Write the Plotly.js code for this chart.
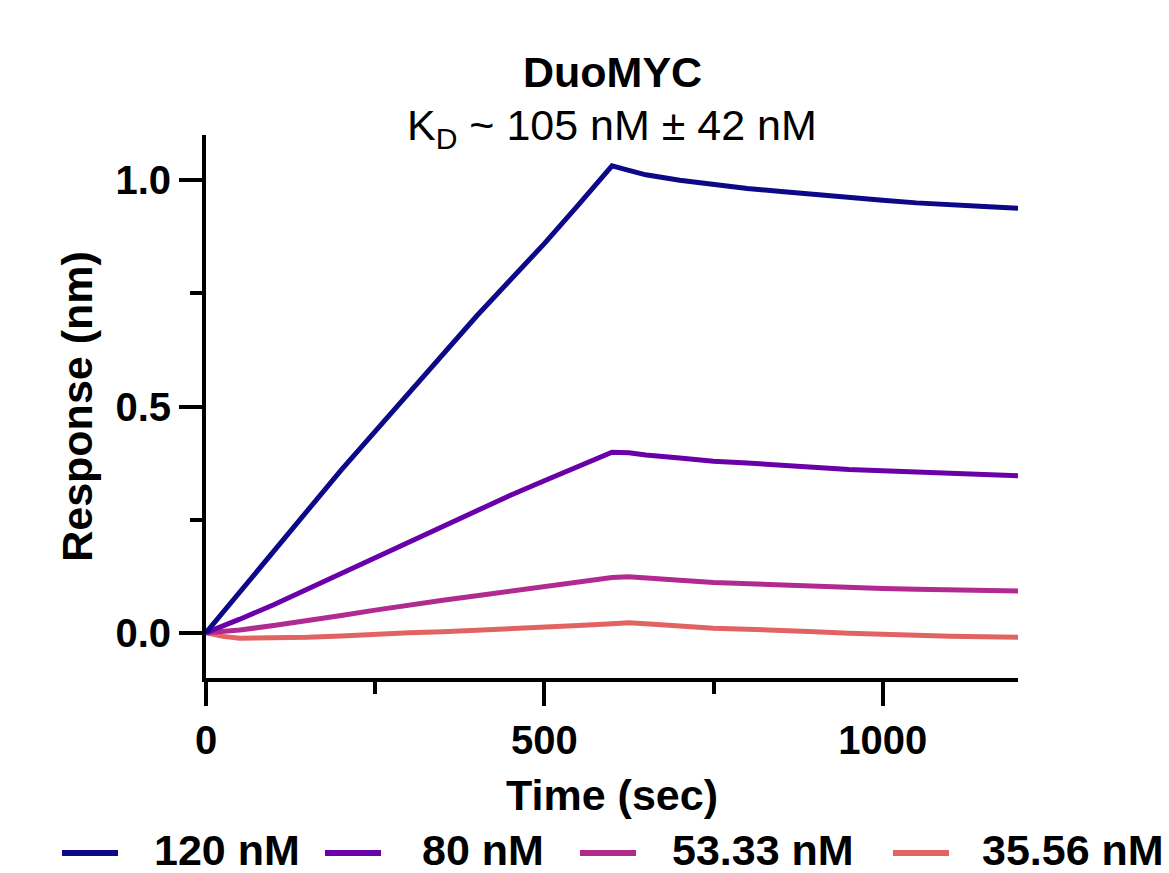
<!DOCTYPE html>
<html>
<head>
<meta charset="utf-8">
<script src="https://cdn.plot.ly/plotly-3.0.1.min.js"></script>
<style>
  html, body { margin: 0; padding: 0; background: #ffffff; }
  #chart { width: 1169px; height: 873px; }
</style>
</head>
<body>
<div id="chart"></div>
<script>
// Time points (sec)
const timeSec = [0, 25, 50, 100, 150, 200, 250, 300, 350, 400, 450, 500, 550, 600,
                 625, 650, 700, 750, 800, 850, 900, 950, 1000, 1050, 1100, 1150, 1200];

// Series names
const seriesNames = ["120 nM", "80 nM", "53.33 nM", "35.56 nM"];

// Response (nm) per concentration
const resp120 = [0, 0.045, 0.09, 0.18, 0.27, 0.36, 0.445, 0.53, 0.615, 0.70, 0.78, 0.86, 0.945, 1.032,
                 1.022, 1.012, 1.000, 0.990, 0.982, 0.975, 0.968, 0.962, 0.956, 0.950, 0.945, 0.942, 0.938];
const resp80 = [0, 0.014, 0.030, 0.062, 0.097, 0.132, 0.167, 0.202, 0.237, 0.272, 0.304, 0.336, 0.367, 0.399,
                0.398, 0.393, 0.386, 0.379, 0.375, 0.370, 0.365, 0.361, 0.358, 0.355, 0.352, 0.349, 0.347];
const resp53 = [0, 0.002, 0.006, 0.016, 0.026, 0.038, 0.050, 0.062, 0.072, 0.082, 0.092, 0.102, 0.112, 0.122,
                0.124, 0.122, 0.116, 0.111, 0.108, 0.106, 0.104, 0.101, 0.098, 0.096, 0.094, 0.093, 0.092];
const resp36 = [0, -0.008, -0.012, -0.012, -0.010, -0.007, -0.003, 0.000, 0.002, 0.005, 0.010, 0.012, 0.016, 0.020,
                0.022, 0.020, 0.014, 0.010, 0.008, 0.004, 0.002, -0.001, -0.004, -0.006, -0.008, -0.009, -0.010];

const seriesValues = [resp120, resp80, resp53, resp36];
const seriesColors = ["#0d0887", "#6a00a8", "#b12a90", "#e16462"];

// Axis ticks
const xTickVals = [0, 500, 1000];
const xTickText = ["0", "500", "1000"];
const yTickVals = [0, 0.5, 1.0];
const yTickText = ["0.0", "0.5", "1.0"];

const FONT = "Liberation Sans, Arial, sans-serif";

// Page geometry (pixels) used for converting legend placement to paper units
const W = 1169, H = 873;
const M = { l: 206, r: 151, t: 135, b: 195 };
const plotW = W - M.l - M.r, plotH = H - M.t - M.b;
const px2x = px => (px - M.l) / plotW;
const px2y = py => (H - M.b - py) / plotH;

const traces = seriesNames.map((name, i) => ({
  type: "scatter",
  mode: "lines",
  name: name,
  x: timeSec,
  y: seriesValues[i],
  line: { color: seriesColors[i], width: 5 },
  showlegend: false,
  hoverinfo: "x+y+name"
}));
traces.reverse();

// Legend drawn below the axis title (symbol start, text start in px)
const legendSymbolX = [62, 325, 580, 893];
const legendTextX = [152, 420, 670, 980];
const legendY = 853;

const shapes = seriesNames.map((name, i) => ({
  type: "line",
  xref: "paper", yref: "paper",
  x0: px2x(legendSymbolX[i]), x1: px2x(legendSymbolX[i] + 56),
  y0: px2y(legendY), y1: px2y(legendY),
  line: { color: seriesColors[i], width: 6 }
}));

const legendTexts = seriesNames.map((name, i) => ({
  text: "<b>" + name + "</b>",
  xref: "paper", yref: "paper",
  x: px2x(legendTextX[i]), y: px2y(legendY - 3),
  xanchor: "left", yanchor: "middle",
  showarrow: false,
  font: { family: FONT, size: 43, color: "#000000" }
}));

const layout = {
  width: W,
  height: H,
  paper_bgcolor: "#ffffff",
  plot_bgcolor: "#ffffff",
  font: { family: FONT, color: "#000000", size: 40 },
  margin: { l: M.l, r: M.r, t: M.t, b: M.b, autoexpand: false },
  showlegend: false,
  xaxis: {
    range: [0, 1200],
    tickmode: "array",
    tickvals: xTickVals,
    ticktext: xTickText,
    showgrid: false,
    zeroline: false,
    showline: true,
    linecolor: "#000000",
    linewidth: 4,
    ticks: "outside",
    ticklen: 24,
    tickwidth: 4,
    tickcolor: "#000000",
    minor: { dtick: 250, tick0: 0, ticks: "outside", ticklen: 12, tickwidth: 4, tickcolor: "#000000", showgrid: false },
    tickfont: { family: FONT, size: 40, color: "#000000", weight: "bold" },
    title: { text: "<b>Time (sec)</b>", font: { family: FONT, size: 43, color: "#000000" }, standoff: 20 },
    automargin: false
  },
  yaxis: {
    range: [-0.1, 1.1],
    tickmode: "array",
    tickvals: yTickVals,
    ticktext: yTickText,
    showgrid: false,
    zeroline: false,
    showline: true,
    linecolor: "#000000",
    linewidth: 4,
    ticks: "outside",
    ticklen: 23,
    tickwidth: 4,
    tickcolor: "#000000",
    minor: { dtick: 0.25, tick0: 0, ticks: "outside", ticklen: 12, tickwidth: 4, tickcolor: "#000000", showgrid: false },
    tickfont: { family: FONT, size: 40, color: "#000000", weight: "bold" },
    title: { text: "<b>Response (nm)</b>", font: { family: FONT, size: 43, color: "#000000" }, standoff: 10 },
    automargin: false
  },
  shapes: shapes,
  annotations: [
    {
      text: "<b>DuoMYC</b>",
      xref: "paper", yref: "paper",
      x: 0.5, y: px2y(72), xanchor: "center", yanchor: "middle",
      showarrow: false,
      font: { family: FONT, size: 43, color: "#000000" }
    },
    {
      text: "K<sub>D</sub> ~ 105 nM ± 42 nM",
      xref: "paper", yref: "paper",
      x: 0.5, y: px2y(128), xanchor: "center", yanchor: "middle",
      showarrow: false,
      font: { family: FONT, size: 43, color: "#000000" }
    }
  ].concat(legendTexts)
};

Plotly.newPlot("chart", traces, layout, { displayModeBar: false, staticPlot: true });
</script>
</body>
</html>
